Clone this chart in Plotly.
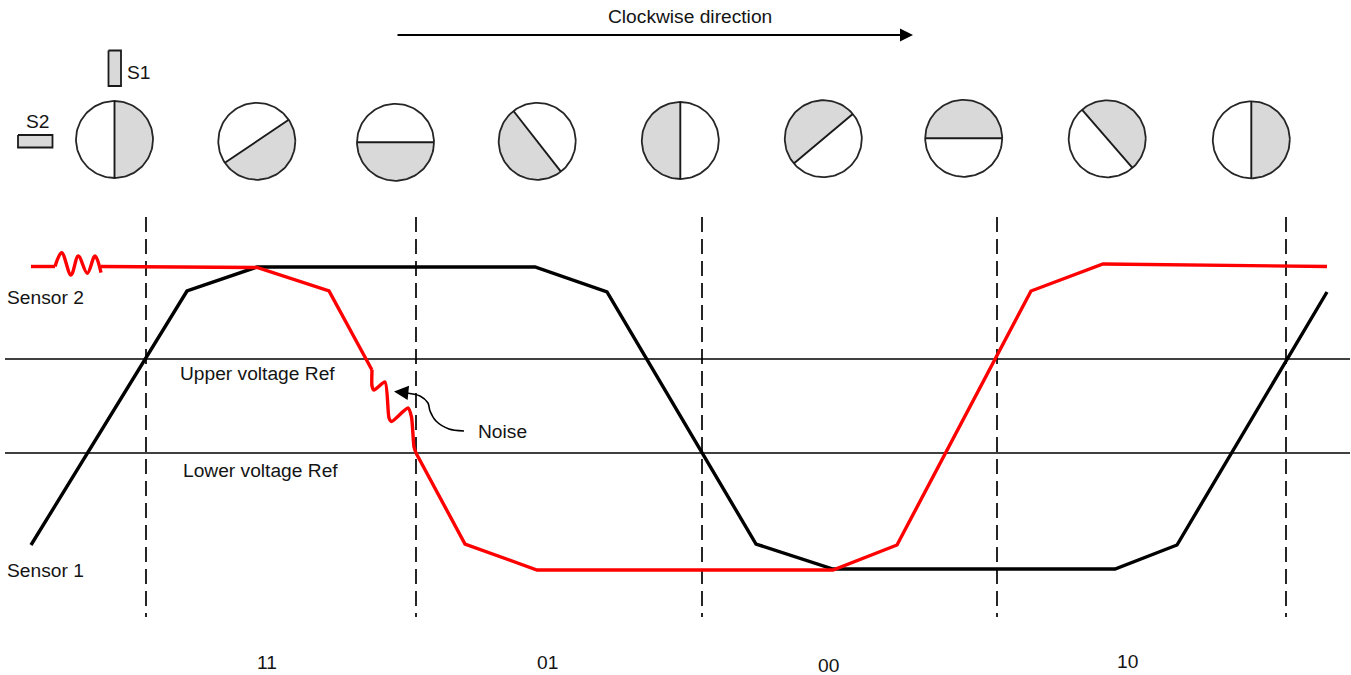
import numpy as np
import plotly.graph_objects as go

FONT = "Liberation Sans"
TXT = "#141414"

# Sensor traces (diagram coordinates)
sensor1_x = [31, 187, 257, 535, 607, 756, 833, 1115, 1177, 1327]
sensor1_y = [545, 291, 267, 267, 292, 544, 569, 569, 545, 292]
red_start_x = [31, 55]
red_start_y = [266.5, 266.5]
red_wave_x = [55, 61.7, 71, 78.3, 87.3, 95, 101]
red_wave_y = [266.5, 252.7, 275, 256, 273.3, 256, 272.7]
red_main_x = [101, 257, 329, 372]
red_main_y = [266.5, 267.5, 291, 370]
red_noise_x = [372, 372, 374, 385, 389, 391.5, 408, 411.5, 414, 416]
red_noise_y = [370, 386, 390, 382, 418, 421.5, 408, 417, 447, 453]
red_end_x = [416, 465, 537, 833, 897, 1031, 1103, 1327]
red_end_y = [453, 544, 570, 570, 545, 291, 264, 266.5]

# Reference lines and phase boundaries
ref_x = [5, 1350]
ref_y = [359, 453]
boundary_x = [146, 416, 702, 997, 1286]
boundary_y = [217, 617]

# Rotor discs: centre, radius and start angle of the shaded half
disc_x = [114.5, 256.8, 395.5, 537.2, 680.3, 823.3, 963.7, 1107.2, 1251.3]
disc_y = [139.5, 141.3, 142.3, 141.3, 140.5, 138.7, 138.3, 138.8, 139.8]
disc_r = 38.5
disc_start = [-90, -34, 0, 52, 90, 140, 180, 229, 270]

# Sensor blocks
s1_x = [108.5, 121, 121, 108.5, 108.5]
s1_y = [50.5, 50.5, 86, 86, 50.5]
s2_x = [18, 52.5, 52.5, 18, 18]
s2_y = [135, 135, 147.5, 147.5, 135]

# Noise pointer
pointer_x = [464, 449, 436, 430, 428, 420, 404]
pointer_y = [431, 429, 421, 411, 403, 396, 392.5]

labels = [
    ("Clockwise direction", 690, 16, "center"),
    ("S1", 125, 72.5, "left"),
    ("S2", 24, 121.5, "left"),
    ("Sensor 2", 5, 297, "left"),
    ("Sensor 1", 5, 570, "left"),
    ("Upper voltage Ref", 178, 373, "left"),
    ("Lower voltage Ref", 181, 470, "left"),
    ("Noise", 476, 431.5, "left"),
    ("11", 267, 662, "center"),
    ("01", 547, 662, "center"),
    ("00", 828, 665, "center"),
    ("10", 1127, 661, "center"),
]

fig = go.Figure()


def add(x, y, color="black", width=1.5, **kw):
    line = dict(color=color, width=width)
    line.update(kw.pop("line_extra", {}))
    fig.add_trace(go.Scatter(x=x, y=y, mode="lines", line=line, hoverinfo="skip",
                             showlegend=False, **kw))


# Discs
for cx, cy, start in zip(disc_x, disc_y, disc_start):
    t = np.radians(np.linspace(0, 360, 121))
    fig.add_trace(go.Scatter(x=cx + disc_r * np.cos(t), y=cy + disc_r * np.sin(t), mode="lines",
                             fill="toself", fillcolor="white", line=dict(width=0),
                             hoverinfo="skip", showlegend=False))
    a = np.radians(np.linspace(start, start + 180, 61))
    hx = cx + disc_r * np.cos(a)
    hy = cy + disc_r * np.sin(a)
    fig.add_trace(go.Scatter(x=hx, y=hy, mode="lines", fill="toself", fillcolor="#d9d9d9",
                             line=dict(width=0), hoverinfo="skip", showlegend=False))
    add(cx + disc_r * np.cos(t), cy + disc_r * np.sin(t), color="#262626", width=1.8)
    add([hx[0], hx[-1]], [hy[0], hy[-1]], color="#1a1a1a", width=1.9)

# Sensor blocks
for bx, by in ((s1_x, s1_y), (s2_x, s2_y)):
    fig.add_trace(go.Scatter(x=bx, y=by, mode="lines", fill="toself", fillcolor="#d9d9d9",
                             line=dict(color="#1a1a1a", width=1.8), hoverinfo="skip",
                             showlegend=False))

# Reference lines
for yv in ref_y:
    add(ref_x, [yv, yv], color="black", width=1.5)
for xv in boundary_x:
    add([xv, xv], boundary_y, color="black", width=1.7, line_extra=dict(dash="15px,7px"))

# Sensors
add(sensor1_x, sensor1_y, color="black", width=3.4)
add(red_start_x, red_start_y, color="#fe0000", width=3.4)
add(red_wave_x, red_wave_y, color="#fe0000", width=3.4, line_extra=dict(shape="spline", smoothing=1))
add(red_main_x, red_main_y, color="#fe0000", width=3.4)
add(red_noise_x, red_noise_y, color="#fe0000", width=3.4, line_extra=dict(shape="spline", smoothing=0.6))
add(red_end_x, red_end_y, color="#fe0000", width=3.4)

# Noise pointer
add(pointer_x, pointer_y, color="black", width=1.6, line_extra=dict(shape="spline", smoothing=0.8))

annotations = [
    dict(x=913, y=35, ax=396, ay=35, xref="x", yref="y", axref="x", ayref="y", text="",
         showarrow=True, arrowhead=2, arrowsize=1.3, arrowwidth=2, arrowcolor="black"),
    dict(x=394, y=391.5, ax=pointer_x[-1], ay=pointer_y[-1], xref="x", yref="y", axref="x", ayref="y",
         text="", showarrow=True, arrowhead=2, arrowsize=1.8, arrowwidth=1.6, arrowcolor="black"),
]
for text, x, y, anchor in labels:
    annotations.append(dict(x=x, y=y, xref="x", yref="y", text=text, showarrow=False, xanchor=anchor,
                            yanchor="middle", font=dict(family=FONT, size=19.2, color=TXT)))

fig.update_layout(
    width=1351, height=675, margin=dict(l=0, r=0, t=0, b=0),
    paper_bgcolor="white", plot_bgcolor="white",
    xaxis=dict(range=[0, 1351], visible=False, fixedrange=True),
    yaxis=dict(range=[675, 0], visible=False, fixedrange=True),
    annotations=annotations,
)
fig.write_html("out.html", config=dict(displayModeBar=False),
               post_script="document.body.style.margin='0';document.body.style.overflow='hidden';")
